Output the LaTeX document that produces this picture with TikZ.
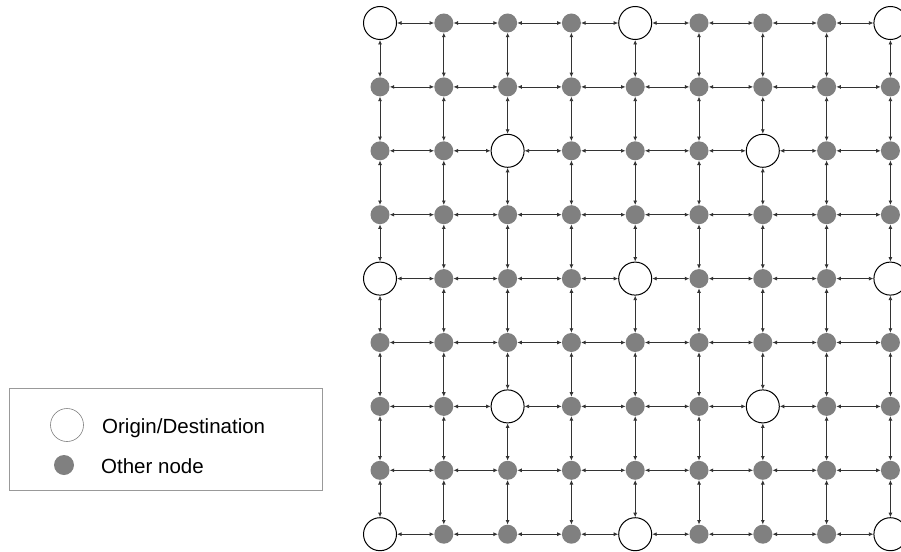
\documentclass[tikz,border=0pt]{standalone}
\usepackage{fontspec}
\setmainfont{Liberation Sans}
\usetikzlibrary{arrows.meta}
\begin{document}
\begin{tikzpicture}[x=1pt,y=-1pt,
  od/.style={circle,draw=black,line width=1pt,fill=white,minimum size=33pt,inner sep=0pt},
  other/.style={circle,fill=black!50,minimum size=19pt,inner sep=0pt},
  link/.style={draw=black!80,line width=0.8pt,{Latex[length=4.5pt,width=4pt]}-{Latex[length=4.5pt,width=4pt]}},
  legtext/.style={anchor=base west,inner sep=0pt,font=\fontsize{20.5pt}{24pt}\selectfont}]
\useasboundingbox (0,0) rectangle (901,551);
\clip (0,0) rectangle (901,551);
% grid nodes
\foreach \i in {0,...,8}{
  \foreach \j in {0,...,8}{
    \pgfmathtruncatemacro\isod{((mod(\i,4)==0) && (mod(\j,4)==0)) || ((mod(\i,4)==2) && (mod(\j,4)==2))}
    \ifnum\isod=1 \def\st{od}\else\def\st{other}\fi
    \node[\st] (n-\i-\j) at ({380+63.8*\i},{23+63.9*\j}) {};
  }
}
% horizontal links
\foreach \i in {0,...,7}{
  \foreach \j in {0,...,8}{
    \pgfmathtruncatemacro\k{\i+1}
    \draw[link] (n-\i-\j) -- (n-\k-\j);
  }
}
% vertical links
\foreach \i in {0,...,8}{
  \foreach \j in {0,...,7}{
    \pgfmathtruncatemacro\k{\j+1}
    \draw[link] (n-\i-\j) -- (n-\i-\k);
  }
}
% legend
\node[rectangle,draw=black!40,line width=0.8pt,minimum width=313pt,minimum height=102pt,inner sep=0pt] (legend) at (165.5,439) {};
\node[circle,draw=black!50,line width=0.6pt,fill=white,minimum size=33pt,inner sep=0pt] (legod) at (67,425) {};
\node[other,minimum size=20pt] (legother) at (64,465) {};
\node[legtext] (legodtext) at (102,433) {Origin/Destination};
\node[legtext] (legothertext) at (101,473) {Other node};
\end{tikzpicture}
\end{document}
